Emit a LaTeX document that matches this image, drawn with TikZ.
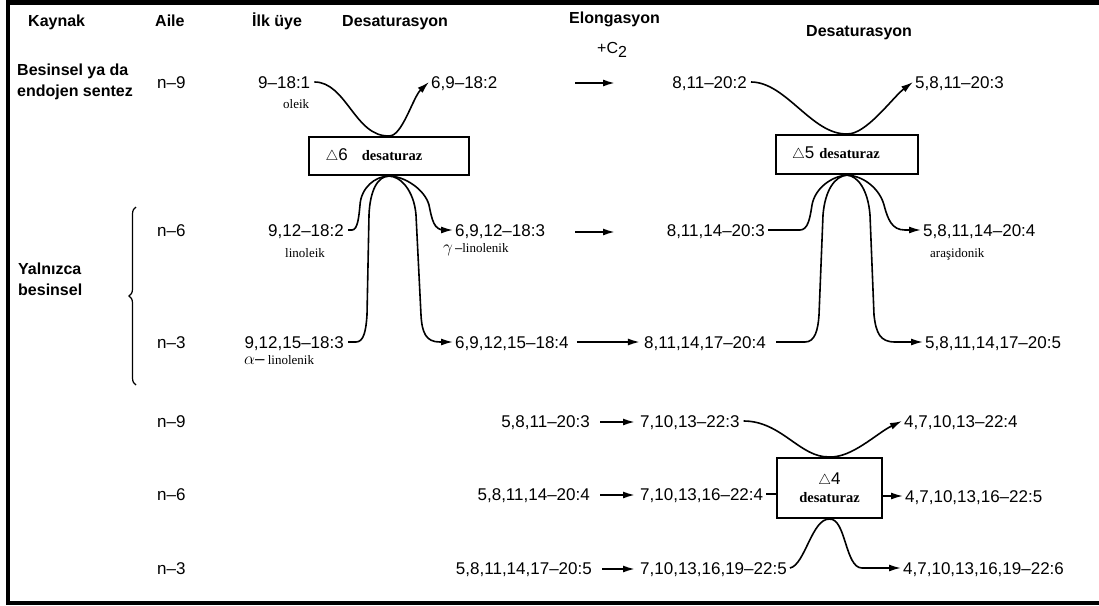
\documentclass[tikz,border=0pt]{standalone}
\usepackage{fontspec}
\setmainfont{Liberation Sans}
\newfontfamily\serf{Liberation Serif}
\usetikzlibrary{arrows.meta,decorations.pathreplacing}
\tikzset{
  hdr/.style={font=\fontsize{16}{16}\selectfont\bfseries, inner sep=0pt, anchor=base west},
  num/.style={font=\fontsize{17}{17}\selectfont, inner sep=0pt},
  nam/.style={font=\serf\fontsize{13}{13}\selectfont, inner sep=0pt, anchor=base west},
  enz/.style={draw, line width=2.2pt, inner sep=0pt, align=center},
  conn/.style={line width=1.6pt},
  tip/.style={-{Latex[length=12pt,width=7pt]}},
  arr/.style={line width=1.8pt, -{Latex[length=12pt,width=7pt]}},
  frame/.style={line width=4.5pt},
}
\newcommand{\tri}{{\fontsize{14}{14}\selectfont$\triangle$}}
\newcommand{\dz}{{\serf\bfseries\fontsize{14.5}{14.5}\selectfont desaturaz}}
\begin{document}
\begin{tikzpicture}[x=1pt,y=-1pt]
\useasboundingbox (0,0) rectangle (1099,605);
% frame
\draw[frame] (1099,2.5) -- (8,2.5) -- (8,603) -- (1099,603);

% headers
\node[hdr] (hK) at (28,27) {Kaynak};
\node[hdr] (hA) at (155,27) {Aile};
\node[hdr] (hI) at (252,27) {İlk üye};
\node[hdr] (hD1) at (342,27) {Desaturasyon};
\node[hdr] (hE) at (569,23) {Elongasyon};
\node[num, anchor=base west, font=\fontsize{16}{16}\selectfont] (hC) at (597,53) {+C\raisebox{-4pt}{2}};
\node[hdr] (hD2) at (806,36) {Desaturasyon};

% source labels
\node[hdr, anchor=north west, align=left, font=\fontsize{16}{21}\selectfont\bfseries] (src1) at (17,64) {Besinsel ya da\\endojen sentez};
\node[hdr, anchor=north west, align=left, font=\fontsize{16}{21}\selectfont\bfseries] (src2) at (18,263) {Yalnızca\\besinsel};
\draw[line width=1.2pt, decorate, decoration={brace, amplitude=7pt}] (136,385) -- (136,207);

% family labels
\node[num, anchor=base west] (f1) at (157,88) {n–9};
\node[num, anchor=base west] (f2) at (157,236) {n–6};
\node[num, anchor=base west] (f3) at (157,348) {n–3};
\node[num, anchor=base west] (f4) at (157,427) {n–9};
\node[num, anchor=base west] (f5) at (157,500) {n–6};
\node[num, anchor=base west] (f6) at (157,574) {n–3};

% row 1
\node[num, anchor=base west] (r1a) at (258,88) {9–18:1};
\node[nam] (l1) at (283,108) {oleik};
\node[num, anchor=base west] (r1b) at (431,88) {6,9–18:2};
\node[num, anchor=base east] (r1c) at (747,88) {8,11–20:2};
\node[num, anchor=base west] (r1d) at (915,88) {5,8,11–20:3};
% row 2
\node[num, anchor=base east] (r2a) at (344,236) {9,12–18:2};
\node[nam] (l2) at (285,257) {linoleik};
\node[num, anchor=base west] (r2b) at (455,236) {6,9,12–18:3};
\node[nam] (l3) at (443,252) {{\fontsize{17}{17}\selectfont$\gamma$}\,{\rmfamily–}linolenik};
\node[num, anchor=base east] (r2c) at (765,236) {8,11,14–20:3};
\node[num, anchor=base west] (r2d) at (923,236) {5,8,11,14–20:4};
\node[nam] (l4) at (930,257) {araşidonik};
% row 3
\node[num, anchor=base east] (r3a) at (344,348) {9,12,15–18:3};
\node[nam] (l5) at (244,364) {{\fontsize{17}{17}\selectfont$\alpha$\rmfamily–} linolenik};
\node[num, anchor=base west] (r3b) at (455,348) {6,9,12,15–18:4};
\node[num, anchor=base east] (r3c) at (766,348) {8,11,14,17–20:4};
\node[num, anchor=base west] (r3d) at (925,348) {5,8,11,14,17–20:5};
% row 4-6
\node[num, anchor=base east] (r4a) at (590,427) {5,8,11–20:3};
\node[num, anchor=base west] (r4b) at (640,427) {7,10,13–22:3};
\node[num, anchor=base west] (r4c) at (904,427) {4,7,10,13–22:4};
\node[num, anchor=base east] (r5a) at (590,500) {5,8,11,14–20:4};
\node[num, anchor=base west] (r5b) at (640,500) {7,10,13,16–22:4};
\node[num, anchor=base west] (r5c) at (905,502) {4,7,10,13,16–22:5};
\node[num, anchor=base east] (r6a) at (592,574) {5,8,11,14,17–20:5};
\node[num, anchor=base west] (r6b) at (640,574) {7,10,13,16,19–22:5};
\node[num, anchor=base west] (r6c) at (903,574) {4,7,10,13,16,19–22:6};

% enzyme boxes
\node[enz, minimum width=160pt, minimum height=38pt, font=\fontsize{17}{17}\selectfont] (d6) at (389,156) {\tri6\hspace{14pt}\dz\hspace{30pt}};
\node[enz, minimum width=142pt, minimum height=39pt, font=\fontsize{17}{17}\selectfont] (d5) at (847,154.5) {\tri5\hspace{5pt}\dz\hspace{22pt}};
\node[enz, minimum width=105pt, minimum height=60pt, font=\fontsize{17}{17}\selectfont] (d4) at (829.5,488) {\tri4\\[1pt]\dz\hspace{6pt}};

% delta 6 connectors
\draw[conn, tip] ([xshift=4pt,yshift=6pt]r1a.base east) .. controls +(32,0) and (355,137) .. (d6.north) .. controls (402,137) and (413,97) .. ([xshift=-2pt,yshift=6pt]r1b.base west);
\draw[conn] ([xshift=4pt,yshift=6pt]r2a.base east) -- (352,230) .. controls (358,230) and (359,215) .. (360,205) .. controls (361,188) and (375,176) .. (d6.south);
\draw[conn] ([xshift=4pt,yshift=6pt]r3a.base east) -- (356,342) .. controls (364,342) and (366,330) .. (367,315) -- (369,215) .. controls (370,190) and (378,176) .. (d6.south);
\draw[conn, tip] (d6.south) .. controls (400,176) and (414,190) .. (416,215) -- (421,315) .. controls (422,333) and (426,342) .. (440,342) -- ([xshift=-2pt,yshift=6pt]r3b.base west);
\draw[conn, tip] (d6.south) .. controls (405,176) and (425,190) .. (429,205) .. controls (432,220) and (434,230) .. (444,230) -- ([xshift=-2pt,yshift=6pt]r2b.base west);

% delta 5 connectors
\draw[conn, tip] ([xshift=4pt,yshift=6pt]r1c.base east) .. controls +(35,0) and (812,135) .. (d5.north) .. controls (866,135) and (893,97) .. ([xshift=-2pt,yshift=6pt]r1d.base west);
\draw[conn] ([xshift=3pt,yshift=6pt]r2c.base east) -- (800,230) .. controls (808,230) and (810,218) .. (812,205) .. controls (815,188) and (832,176) .. (d5.south);
\draw[conn] ([xshift=10pt,yshift=6pt]r3c.base east) -- (805,342) .. controls (815,342) and (818,330) .. (819,315) -- (823,215) .. controls (825,190) and (835,176) .. (d5.south);
\draw[conn, tip] (d5.south) .. controls (858,176) and (868,190) .. (870,215) -- (874,315) .. controls (876,333) and (880,342) .. (895,342) -- ([xshift=-2pt,yshift=6pt]r3d.base west);
\draw[conn, tip] (d5.south) .. controls (865,176) and (880,190) .. (884,205) .. controls (888,220) and (892,230) .. (905,230) -- ([xshift=-2pt,yshift=6pt]r2d.base west);

% delta 4 connectors
\coordinate (m5) at ([xshift=3pt,yshift=6pt]r5b.base east);
\coordinate (m5r) at ([xshift=-2pt,yshift=6pt]r5c.base west);
\draw[conn, tip] ([xshift=4pt,yshift=6pt]r4b.base east) .. controls +(38,0) and (800,458) .. (d4.north) .. controls (852,458) and (877,433) .. ([xshift=-2pt,yshift=6pt]r4c.base west);
\draw[conn] (m5) -- (m5 -| d4.west);
\draw[conn, tip] (m5r -| d4.east) -- (m5r);
\draw[conn, tip] ([xshift=3pt,yshift=6pt]r6b.base east) .. controls (805,565) and (812,518) .. (d4.south) .. controls (846,518) and (845,568) .. (862,568) -- ([xshift=-2pt,yshift=6pt]r6c.base west);

% elongation arrows
\coordinate (e1s) at (575,83);
\coordinate (e1e) at (615,83);
\coordinate (e2s) at (575,232);
\coordinate (e2e) at (615,232);
\draw[arr] (e1s) -- (e1e);
\draw[arr] (e2s) -- (e2e);
\draw[arr] ([xshift=8pt,yshift=6pt]r3b.base east) -- ([xshift=-4pt,yshift=6pt]r3c.base west);
\draw[arr] ([xshift=10pt,yshift=5pt]r4a.base east) -- ([xshift=-5pt,yshift=5pt]r4b.base west);
\draw[arr] ([xshift=10pt,yshift=5pt]r5a.base east) -- ([xshift=-5pt,yshift=5pt]r5b.base west);
\draw[arr] ([xshift=10pt,yshift=5pt]r6a.base east) -- ([xshift=-5pt,yshift=5pt]r6b.base west);
\end{tikzpicture}
\end{document}
